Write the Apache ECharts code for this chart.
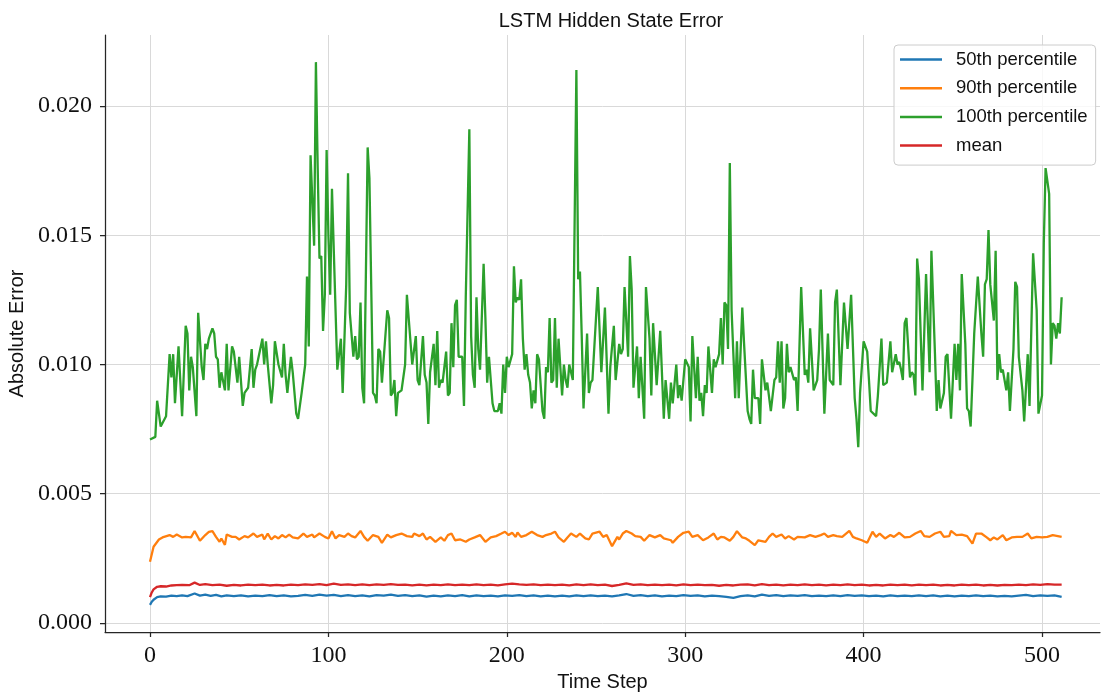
<!DOCTYPE html>
<html>
<head>
<meta charset="utf-8">
<script src="https://cdn.jsdelivr.net/npm/echarts@6/dist/echarts.min.js"></script>
<style>html,body{margin:0;padding:0;background:#fff;}#c{width:1101px;height:693px;}</style>
</head>
<body>
<div id="c"></div>
<script>
// ---- data (time step, value) ----
var seriesNames = ['50th percentile', '90th percentile', '100th percentile', 'mean'];
var xTicks = [0, 100, 200, 300, 400, 500];
var yTicks = [0.000, 0.005, 0.010, 0.015, 0.020];

var p50 = [[0,0.00070],[1,0.00082],[2,0.00090],[4,0.00100],[6,0.00103],[9,0.00102],[12,0.00106],[15,0.00104],[18,0.00107],[21,0.00104],[25,0.00114],[28,0.00106],[31,0.00110],[34,0.00105],[37,0.00109],[40,0.00103],[43,0.00107],[47,0.00104],[51,0.00107],[55,0.00103],[59,0.00106],[63,0.00104],[67,0.00108],[71,0.00104],[75,0.00107],[79,0.00103],[83,0.00105],[87,0.00109],[91,0.00105],[95,0.00110],[99,0.00106],[103,0.00109],[107,0.00104],[111,0.00108],[115,0.00104],[119,0.00107],[123,0.00103],[127,0.00108],[131,0.00106],[135,0.00110],[139,0.00105],[143,0.00108],[147,0.00104],[151,0.00107],[155,0.00102],[159,0.00106],[163,0.00103],[167,0.00107],[171,0.00104],[175,0.00108],[179,0.00103],[183,0.00107],[187,0.00104],[191,0.00106],[195,0.00103],[199,0.00107],[203,0.00105],[207,0.00108],[211,0.00104],[215,0.00107],[219,0.00103],[223,0.00106],[227,0.00103],[231,0.00106],[235,0.00103],[239,0.00107],[243,0.00104],[247,0.00107],[251,0.00104],[255,0.00106],[259,0.00103],[263,0.00107],[267,0.00112],[271,0.00105],[275,0.00108],[279,0.00104],[283,0.00107],[287,0.00103],[291,0.00106],[295,0.00104],[299,0.00108],[303,0.00105],[307,0.00107],[311,0.00103],[315,0.00106],[319,0.00104],[323,0.00101],[327,0.00097],[331,0.00104],[335,0.00107],[339,0.00103],[343,0.00110],[347,0.00105],[351,0.00108],[355,0.00104],[359,0.00107],[363,0.00105],[367,0.00108],[371,0.00104],[375,0.00106],[379,0.00104],[383,0.00107],[387,0.00104],[391,0.00108],[395,0.00105],[399,0.00107],[403,0.00104],[407,0.00106],[411,0.00103],[415,0.00107],[419,0.00104],[423,0.00106],[427,0.00104],[431,0.00107],[435,0.00104],[439,0.00107],[443,0.00103],[447,0.00106],[451,0.00103],[455,0.00106],[459,0.00104],[463,0.00107],[467,0.00104],[471,0.00106],[475,0.00103],[479,0.00105],[483,0.00103],[487,0.00106],[491,0.00109],[495,0.00104],[499,0.00107],[503,0.00105],[507,0.00107],[511,0.00101]];

var p90 = [[0,0.00237],[2,0.00295],[5,0.00323],[7,0.00331],[11,0.00340],[13,0.00333],[15,0.00342],[18,0.00331],[20,0.00333],[23,0.00331],[25,0.00356],[28,0.00318],[31,0.00340],[33,0.00352],[34,0.00346],[35,0.00355],[37,0.00333],[39,0.00314],[40,0.00327],[42,0.00302],[43,0.00342],[46,0.00333],[48,0.00333],[50,0.00323],[53,0.00336],[55,0.00331],[58,0.00346],[60,0.00333],[63,0.00342],[64,0.00323],[66,0.00346],[68,0.00323],[70,0.00336],[72,0.00327],[74,0.00340],[76,0.00331],[78,0.00342],[80,0.00331],[83,0.00327],[86,0.00346],[88,0.00333],[91,0.00342],[92,0.00331],[95,0.00346],[98,0.00333],[100,0.00327],[102,0.00355],[104,0.00327],[106,0.00340],[109,0.00333],[111,0.00346],[113,0.00336],[115,0.00331],[118,0.00356],[120,0.00333],[122,0.00318],[125,0.00340],[128,0.00333],[130,0.00310],[133,0.00342],[135,0.00331],[138,0.00340],[141,0.00346],[144,0.00336],[147,0.00333],[148,0.00346],[151,0.00336],[153,0.00346],[155,0.00323],[157,0.00333],[160,0.00314],[163,0.00331],[165,0.00318],[167,0.00340],[169,0.00346],[171,0.00320],[174,0.00323],[177,0.00314],[179,0.00323],[182,0.00331],[185,0.00340],[188,0.00314],[191,0.00331],[194,0.00336],[197,0.00346],[199,0.00353],[201,0.00340],[203,0.00349],[205,0.00333],[206,0.00350],[208,0.00333],[211,0.00340],[214,0.00353],[217,0.00340],[220,0.00333],[222,0.00340],[225,0.00346],[227,0.00353],[229,0.00331],[232,0.00314],[234,0.00331],[236,0.00346],[239,0.00333],[241,0.00346],[244,0.00327],[246,0.00323],[248,0.00346],[252,0.00353],[254,0.00333],[256,0.00340],[259,0.00297],[262,0.00333],[263,0.00323],[265,0.00346],[267,0.00356],[270,0.00346],[272,0.00336],[275,0.00333],[277,0.00318],[280,0.00340],[283,0.00331],[286,0.00340],[288,0.00327],[292,0.00320],[293,0.00310],[296,0.00333],[299,0.00349],[302,0.00353],[304,0.00333],[307,0.00340],[310,0.00320],[313,0.00331],[316,0.00346],[318,0.00323],[320,0.00333],[322,0.00331],[325,0.00318],[327,0.00333],[329,0.00355],[332,0.00331],[334,0.00327],[336,0.00318],[339,0.00301],[341,0.00320],[345,0.00314],[347,0.00333],[349,0.00346],[351,0.00333],[354,0.00342],[356,0.00327],[358,0.00336],[361,0.00323],[363,0.00333],[367,0.00331],[370,0.00340],[373,0.00333],[376,0.00340],[378,0.00346],[380,0.00333],[383,0.00340],[385,0.00336],[388,0.00333],[392,0.00356],[394,0.00333],[396,0.00327],[399,0.00320],[402,0.00310],[405,0.00353],[407,0.00333],[409,0.00346],[412,0.00327],[415,0.00340],[417,0.00333],[420,0.00349],[423,0.00331],[426,0.00333],[429,0.00346],[432,0.00356],[434,0.00336],[437,0.00333],[440,0.00346],[443,0.00353],[445,0.00333],[448,0.00336],[449,0.00356],[452,0.00340],[455,0.00342],[458,0.00336],[461,0.00307],[463,0.00346],[466,0.00346],[469,0.00331],[471,0.00320],[473,0.00331],[475,0.00323],[478,0.00340],[480,0.00320],[483,0.00331],[486,0.00333],[489,0.00333],[492,0.00346],[494,0.00327],[497,0.00333],[500,0.00331],[503,0.00333],[506,0.00340],[511,0.00333]];

var p100 = [[0,0.0071],[1,0.0071],[3,0.0072],[4,0.0086],[6,0.0076],[7,0.0076],[9,0.0080],[11,0.0104],[12,0.0095],[13,0.0104],[14,0.0085],[16,0.0107],[18,0.0080],[20,0.0115],[21,0.0112],[22,0.0090],[23,0.0103],[24,0.0099],[25,0.0099],[26,0.0080],[27,0.0120],[29,0.0099],[30,0.0094],[31,0.0108],[32,0.0106],[33,0.0110],[35,0.0114],[36,0.0112],[37,0.0103],[38,0.0102],[39,0.0091],[40,0.0097],[41,0.0097],[42,0.0090],[43,0.0108],[44,0.0090],[46,0.0107],[47,0.0105],[49,0.0093],[50,0.0103],[52,0.0084],[53,0.0089],[55,0.0091],[57,0.0106],[58,0.0091],[59,0.0098],[60,0.0100],[61,0.0100],[63,0.0110],[64,0.0100],[65,0.0109],[66,0.0100],[68,0.0085],[69,0.0092],[70,0.0109],[72,0.0100],[74,0.0095],[75,0.0108],[76,0.0096],[77,0.0089],[79,0.0103],[80,0.0097],[81,0.0097],[82,0.0081],[83,0.0079],[84,0.0079],[85,0.0089],[86,0.0089],[87,0.0100],[88,0.0134],[89,0.0107],[90,0.0181],[91,0.0181],[92,0.0146],[93,0.0217],[94,0.0176],[95,0.0141],[96,0.0142],[97,0.0113],[98,0.0127],[99,0.0183],[100,0.0150],[101,0.0127],[102,0.0168],[103,0.0168],[105,0.0098],[106,0.0098],[107,0.0110],[108,0.0089],[110,0.0131],[111,0.0174],[112,0.0120],[114,0.0103],[115,0.0111],[116,0.0102],[117,0.0103],[118,0.0124],[119,0.0091],[120,0.0085],[122,0.0184],[123,0.0172],[125,0.0089],[126,0.0088],[127,0.0085],[128,0.0106],[129,0.0105],[130,0.0093],[131,0.0093],[133,0.0121],[134,0.0118],[135,0.0088],[136,0.0089],[137,0.0094],[138,0.0080],[139,0.0089],[141,0.0090],[142,0.0090],[143,0.0100],[144,0.0127],[145,0.0127],[147,0.0100],[148,0.0100],[149,0.0111],[150,0.0094],[151,0.0092],[153,0.0111],[154,0.0096],[155,0.0093],[156,0.0077],[157,0.0097],[159,0.0108],[160,0.0092],[161,0.0113],[162,0.0091],[163,0.0094],[164,0.0093],[166,0.0105],[167,0.0088],[168,0.0089],[169,0.0116],[170,0.0099],[171,0.0123],[172,0.0125],[173,0.0103],[175,0.0103],[176,0.0084],[177,0.0126],[179,0.0191],[180,0.0111],[181,0.0096],[182,0.0091],[183,0.0126],[184,0.0106],[185,0.0098],[187,0.0139],[188,0.0118],[189,0.0093],[190,0.0103],[192,0.0085],[193,0.0082],[195,0.0082],[196,0.0085],[197,0.0081],[198,0.0100],[199,0.0089],[200,0.0103],[201,0.0099],[203,0.0104],[204,0.0138],[205,0.0124],[206,0.0126],[207,0.0125],[208,0.0133],[209,0.0110],[210,0.0098],[211,0.0104],[212,0.0096],[213,0.0093],[214,0.0083],[215,0.0090],[216,0.0085],[217,0.0104],[218,0.0102],[220,0.0082],[221,0.0079],[222,0.0099],[223,0.0097],[224,0.0118],[225,0.0093],[226,0.0094],[227,0.0118],[228,0.0091],[229,0.0110],[230,0.0099],[231,0.0088],[232,0.0100],[233,0.0094],[234,0.0091],[235,0.0100],[236,0.0100],[237,0.0094],[239,0.0214],[240,0.0133],[241,0.0136],[242,0.0111],[243,0.0083],[245,0.0112],[246,0.0089],[247,0.0093],[248,0.0094],[250,0.0118],[251,0.0130],[253,0.0097],[255,0.0122],[257,0.0081],[258,0.0099],[260,0.0115],[261,0.0094],[263,0.0108],[264,0.0104],[265,0.0106],[266,0.0130],[268,0.0103],[269,0.0142],[270,0.0129],[271,0.0091],[273,0.0107],[274,0.0087],[275,0.0103],[277,0.0079],[278,0.0130],[280,0.0110],[281,0.0088],[282,0.0116],[284,0.0092],[286,0.0113],[288,0.0079],[289,0.0094],[291,0.0079],[292,0.0093],[293,0.0085],[295,0.0100],[296,0.0087],[297,0.0092],[298,0.0086],[300,0.0102],[301,0.0102],[302,0.0099],[303,0.0078],[304,0.0111],[306,0.0087],[307,0.0103],[308,0.0086],[309,0.0089],[310,0.0080],[311,0.0092],[312,0.0089],[313,0.0107],[315,0.0089],[316,0.0102],[317,0.0099],[319,0.0104],[320,0.0118],[321,0.0100],[322,0.0124],[323,0.0123],[324,0.0106],[325,0.0178],[326,0.0121],[328,0.0087],[329,0.0109],[330,0.0087],[331,0.0087],[332,0.0122],[333,0.0108],[335,0.0082],[336,0.0079],[337,0.0077],[338,0.0098],[339,0.0087],[341,0.0087],[342,0.0077],[343,0.0102],[345,0.0090],[346,0.0093],[347,0.0093],[348,0.0082],[350,0.0094],[351,0.0095],[352,0.0109],[353,0.0093],[354,0.0109],[355,0.0083],[356,0.0087],[357,0.0108],[358,0.0097],[359,0.0099],[361,0.0094],[362,0.0095],[363,0.0082],[365,0.0130],[367,0.0096],[368,0.0098],[369,0.0093],[370,0.0114],[372,0.0090],[374,0.0094],[375,0.0106],[376,0.0129],[378,0.0081],[380,0.0112],[381,0.0094],[383,0.0092],[384,0.0124],[385,0.0129],[387,0.0092],[389,0.0124],[391,0.0106],[393,0.0127],[395,0.0087],[396,0.0079],[397,0.0068],[398,0.0089],[399,0.0089],[400,0.0109],[402,0.0105],[403,0.0094],[404,0.0082],[405,0.0082],[407,0.0080],[408,0.0088],[409,0.0088],[410,0.0110],[411,0.0092],[413,0.0093],[415,0.0109],[416,0.0097],[418,0.0104],[419,0.0100],[420,0.0101],[421,0.0098],[422,0.0094],[423,0.0116],[424,0.0118],[426,0.0095],[427,0.0097],[428,0.0096],[429,0.0088],[430,0.0141],[431,0.0133],[433,0.0090],[435,0.0135],[437,0.0097],[438,0.0144],[440,0.0104],[441,0.0082],[442,0.0094],[443,0.0083],[445,0.0089],[446,0.0103],[447,0.0104],[449,0.0079],[451,0.0108],[452,0.0094],[453,0.0108],[454,0.0090],[455,0.0135],[457,0.0108],[458,0.0083],[459,0.0082],[460,0.0076],[462,0.0112],[463,0.0112],[464,0.0134],[466,0.0112],[467,0.0103],[468,0.0131],[469,0.0133],[470,0.0152],[471,0.0131],[473,0.0117],[474,0.0144],[475,0.0094],[476,0.0104],[477,0.0097],[478,0.0098],[480,0.0090],[481,0.0097],[482,0.0082],[484,0.0106],[485,0.0132],[486,0.0130],[487,0.0103],[489,0.0090],[490,0.0078],[492,0.0104],[493,0.0084],[495,0.0143],[497,0.0121],[498,0.0081],[500,0.0088],[501,0.0147],[502,0.0176],[504,0.0166],[505,0.0100],[506,0.0116],[507,0.0115],[508,0.0110],[509,0.0116],[510,0.0112],[511,0.0126]];

var pMean = [[0,0.00100],[1,0.00118],[2,0.00130],[4,0.00140],[6,0.00142],[9,0.00141],[12,0.00145],[15,0.00146],[18,0.00147],[22,0.00146],[25,0.00156],[28,0.00147],[31,0.00150],[35,0.00146],[39,0.00148],[43,0.00144],[47,0.00147],[51,0.00145],[55,0.00148],[59,0.00146],[63,0.00148],[67,0.00145],[71,0.00147],[75,0.00145],[79,0.00148],[83,0.00146],[87,0.00149],[91,0.00147],[95,0.00150],[99,0.00146],[103,0.00152],[107,0.00147],[111,0.00149],[115,0.00146],[119,0.00149],[123,0.00146],[127,0.00149],[131,0.00147],[135,0.00150],[139,0.00147],[143,0.00148],[147,0.00145],[151,0.00148],[155,0.00145],[159,0.00148],[163,0.00146],[167,0.00149],[171,0.00146],[175,0.00148],[179,0.00146],[183,0.00149],[187,0.00146],[191,0.00148],[195,0.00145],[199,0.00149],[203,0.00152],[207,0.00149],[211,0.00147],[215,0.00149],[219,0.00146],[223,0.00148],[227,0.00146],[231,0.00148],[235,0.00145],[239,0.00149],[243,0.00146],[247,0.00149],[251,0.00146],[255,0.00148],[259,0.00143],[263,0.00147],[267,0.00153],[271,0.00147],[275,0.00149],[279,0.00146],[283,0.00148],[287,0.00146],[291,0.00148],[295,0.00145],[299,0.00149],[303,0.00146],[307,0.00148],[311,0.00146],[315,0.00147],[319,0.00144],[323,0.00147],[327,0.00145],[331,0.00148],[335,0.00149],[339,0.00145],[343,0.00150],[347,0.00146],[351,0.00148],[355,0.00145],[359,0.00148],[363,0.00146],[367,0.00149],[371,0.00146],[375,0.00148],[379,0.00145],[383,0.00148],[387,0.00146],[391,0.00149],[395,0.00146],[399,0.00148],[403,0.00145],[407,0.00147],[411,0.00145],[415,0.00148],[419,0.00146],[423,0.00148],[427,0.00145],[431,0.00148],[435,0.00146],[439,0.00148],[443,0.00145],[447,0.00147],[451,0.00145],[455,0.00148],[459,0.00146],[463,0.00148],[467,0.00145],[471,0.00147],[475,0.00145],[479,0.00147],[483,0.00146],[487,0.00148],[491,0.00146],[495,0.00149],[499,0.00147],[503,0.00150],[507,0.00148],[511,0.00148]];

var colors = ['#1f77b4', '#ff7f0e', '#2ca02c', '#d62728'];
var seriesData = [p50, p90, p100, pMean];

var chart = echarts.init(document.getElementById('c'), null, {renderer: 'canvas'});
var sans = 'Liberation Sans';
var serif = 'Liberation Serif';
var axisCol = '#262626';

chart.setOption({
  animation: false,
  backgroundColor: '#ffffff',
  color: colors,
  title: {
    text: 'LSTM Hidden State Error',
    left: 606, top: 6, textAlign: 'center',
    textStyle: {fontFamily: sans, fontSize: 20, fontWeight: 'normal', color: '#111'}
  },
  legend: {
    data: seriesNames,
    orient: 'vertical',
    left: 894, top: 45,
    padding: [5, 8, 10, 6],
    itemGap: 9.7,
    itemWidth: 42, itemHeight: 2.5,
    icon: 'rect',
    backgroundColor: 'rgba(255,255,255,0.8)',
    borderColor: '#cccccc', borderWidth: 1, borderRadius: 4,
    textStyle: {fontFamily: sans, fontSize: 18.5, color: '#111', lineHeight: 18, padding: [0, 0, 0, 9]}
  },
  grid: {left: 105, top: 35, right: 1, bottom: 61, containLabel: false, outerBoundsMode: 'none'},
  xAxis: {
    type: 'value', min: -25.22, max: 532.5,
    name: 'Time Step', nameLocation: 'middle', nameGap: 38,
    nameTextStyle: {fontFamily: sans, fontSize: 20, color: '#111'},
    axisLine: {show: true, onZero: false, lineStyle: {color: axisCol, width: 1.25}},
    axisTick: {show: true, inside: false, length: 5, customValues: xTicks, lineStyle: {color: axisCol, width: 1.25}},
    axisLabel: {customValues: xTicks, margin: 12, fontFamily: serif, fontSize: 24, color: '#111', formatter: function(v){return String(v);}},
    splitLine: {show: true, lineStyle: {color: '#d9d9d9', width: 1}}
  },
  yAxis: {
    type: 'value', min: -0.00035, max: 0.02275,
    name: 'Absolute Error', nameLocation: 'middle', nameGap: 76, nameRotate: 90,
    nameTextStyle: {fontFamily: sans, fontSize: 20, color: '#111'},
    axisLine: {show: true, onZero: false, lineStyle: {color: axisCol, width: 1.25}},
    axisTick: {show: true, inside: false, length: 5, customValues: yTicks, lineStyle: {color: axisCol, width: 1.25}},
    axisLabel: {customValues: yTicks, margin: 13, fontFamily: serif, fontSize: 24, color: '#111', formatter: function(v){return v.toFixed(3);}},
    splitLine: {show: true, lineStyle: {color: '#d9d9d9', width: 1}}
  },
  series: seriesNames.map(function(n, i){
    return {
      name: n, type: 'line', data: seriesData[i],
      symbol: 'none', showSymbol: false, smooth: false,
      lineStyle: {width: 2.3, color: colors[i]},
      itemStyle: {color: colors[i]},
      z: 2 + i
    };
  })
});
</script>
</body>
</html>
